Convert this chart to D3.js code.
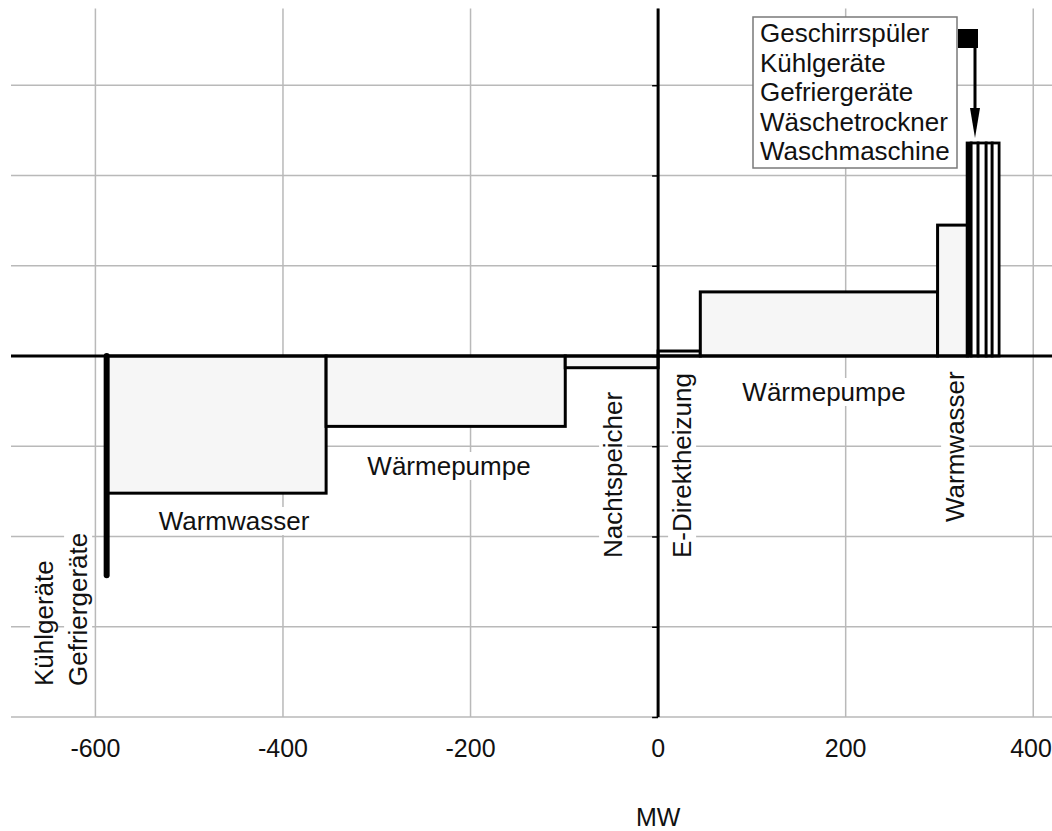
<!DOCTYPE html>
<html>
<head>
<meta charset="utf-8">
<script src="https://cdn.jsdelivr.net/npm/d3@7"></script>
<style>
  body { margin: 0; background: #fff; }
  svg { display: block; font-family: "Liberation Sans", Arial, sans-serif; }
</style>
</head>
<body>
<svg id="chart" width="1052" height="831"></svg>
<script>
// axis ticks
const xTicks = [-600, -400, -200, 0, 200, 400];
const yTicks = [-4, -3, -2, -1, 0, 1, 2, 3];

// step blocks: left edge (MW), right edge (MW), height (grid units)
const stepNames = ["Warmwasser", "Wärmepumpe", "Nachtspeicher", "E-Direktheizung", "Wärmepumpe", "Warmwasser"];
const stepFrom = [-588, -354, -99, 0, 45, 298];
const stepTo = [-354, -99, 0, 45, 298, 330];
const stepValue = [-1.52, -0.78, -0.13, 0.055, 0.71, 1.45];

// small appliances stacked at the right end
const applianceNames = ["Geschirrspüler", "Kühlgeräte", "Gefriergeräte", "Wäschetrockner", "Waschmaschine"];
const applianceFrom = [329.5, 333.8, 341.2, 349.8, 356.2];
const applianceTo = [333.8, 341.2, 349.8, 356.2, 363.6];
const applianceValue = [2.36, 2.36, 2.36, 2.36, 2.36];

// Kühl-/Gefriergeräte on the negative side (drawn as a bar line)
const coldMW = -588;
const coldValue = -2.43;

const W = 1052, H = 831;
const svg = d3.select('#chart');

const x = d3.scaleLinear().domain([-690, 420]).range([11, 1052]);
const y = d3.scaleLinear().domain([-4, 3.85]).range([717, 8.5]);

const grid = svg.append('g').attr('class', 'grid')
  .attr('stroke', '#b9b9b9').attr('stroke-width', 1.5);

grid.selectAll('.gx').data(xTicks).enter().append('line')
  .attr('x1', d => x(d)).attr('x2', d => x(d))
  .attr('y1', y(3.85)).attr('y2', y(-4));

grid.selectAll('.gy').data(yTicks).enter().append('line')
  .attr('x1', x(-690)).attr('x2', W)
  .attr('y1', d => y(d)).attr('y2', d => y(d));

// step blocks
const steps = stepNames.map((n, i) => ({ name: n, from: stepFrom[i], to: stepTo[i], value: stepValue[i] }));
svg.append('g').selectAll('rect').data(steps).enter().append('rect')
  .attr('x', d => x(d.from))
  .attr('width', d => x(d.to) - x(d.from))
  .attr('y', d => y(Math.max(0, d.value)))
  .attr('height', d => Math.abs(y(d.value) - y(0)))
  .attr('fill', '#f6f6f6')
  .attr('stroke', '#000')
  .attr('stroke-width', 3);

const appliances = applianceNames.map((n, i) => ({ name: n, from: applianceFrom[i], to: applianceTo[i], value: applianceValue[i] }));
svg.append('g').selectAll('rect').data(appliances).enter().append('rect')
  .attr('x', d => x(d.from))
  .attr('width', d => x(d.to) - x(d.from))
  .attr('y', d => y(d.value))
  .attr('height', d => y(0) - y(d.value))
  .attr('fill', d => d.name === 'Geschirrspüler' ? '#000' : '#fff')
  .attr('stroke', '#000')
  .attr('stroke-width', 2.8);

svg.append('line')
  .attr('x1', x(coldMW)).attr('x2', x(coldMW))
  .attr('y1', y(0)).attr('y2', y(coldValue))
  .attr('stroke', '#000').attr('stroke-width', 6)
  .attr('stroke-linecap', 'round');

// zero line and y axis
svg.append('line')
  .attr('x1', x(-690)).attr('x2', W)
  .attr('y1', y(0)).attr('y2', y(0))
  .attr('stroke', '#000').attr('stroke-width', 2.8);

const yAxis = svg.append('g')
  .attr('transform', `translate(${x(0)},0)`)
  .call(d3.axisLeft(y).tickValues(yTicks).tickSize(6).tickFormat(''));
yAxis.select('.domain').remove();
yAxis.selectAll('.tick line').attr('stroke', '#000').attr('stroke-width', 1.5);

svg.append('line')
  .attr('x1', x(0)).attr('x2', x(0))
  .attr('y1', y(3.85)).attr('y2', y(-4))
  .attr('stroke', '#000').attr('stroke-width', 3);

// x tick labels (last one kept inside the right edge)
svg.append('g').selectAll('text').data(xTicks).enter().append('text')
  .attr('x', d => Math.min(x(d), W - 21))
  .attr('y', 757)
  .attr('text-anchor', 'middle')
  .attr('font-size', 25).attr('fill', '#111')
  .text(d => d);

svg.append('text')
  .attr('x', x(0)).attr('y', 826)
  .attr('text-anchor', 'middle')
  .attr('font-size', 25).attr('fill', '#111')
  .text('MW');

// block labels (layout)
const labels = [
  { text: 'Warmwasser', px: 234, py: 530, rot: 0 },
  { text: 'Wärmepumpe', px: 449, py: 475, rot: 0 },
  { text: 'Nachtspeicher', px: 613, py: 558, rot: -90 },
  { text: 'E-Direktheizung', px: 682, py: 558, rot: -90 },
  { text: 'Wärmepumpe', px: 824, py: 401, rot: 0 },
  { text: 'Warmwasser', px: 955, py: 522, rot: -90 },
  { text: 'Kühlgeräte', px: 44, py: 686, rot: -90 },
  { text: 'Gefriergeräte', px: 78, py: 686, rot: -90 }
];

const lab = svg.append('g').selectAll('g').data(labels).enter().append('g')
  .attr('transform', d => `translate(${d.px},${d.py}) rotate(${d.rot})`);
lab.append('text')
  .attr('text-anchor', d => d.rot ? 'start' : 'middle')
  .attr('dy', d => d.rot ? '0.35em' : 0)
  .attr('font-size', 26).attr('fill', '#111')
  .text(d => d.text);
lab.each(function() {
  const g = d3.select(this);
  const b = g.select('text').node().getBBox();
  g.insert('rect', 'text')
    .attr('x', b.x - 3).attr('y', b.y + 1)
    .attr('width', b.width + 6).attr('height', b.height - 2)
    .attr('fill', '#fff');
});

// legend box for the small appliances
const legend = svg.append('g');
legend.append('rect')
  .attr('x', 753).attr('y', 17).attr('width', 204).attr('height', 151)
  .attr('fill', '#fff').attr('stroke', '#7a7a7a').attr('stroke-width', 1.5);
legend.selectAll('text').data(applianceNames).enter().append('text')
  .attr('x', 760).attr('y', (d, i) => 42 + i * 29.5)
  .attr('font-size', 26).attr('fill', '#111')
  .text(d => d);

legend.append('rect')
  .attr('x', 958).attr('y', 29).attr('width', 20).attr('height', 19)
  .attr('fill', '#000');
legend.append('line')
  .attr('x1', 975).attr('x2', 975).attr('y1', 46).attr('y2', 112)
  .attr('stroke', '#000').attr('stroke-width', 3);
legend.append('path')
  .attr('d', 'M970,108 L980,108 L975,138 Z')
  .attr('fill', '#000');
</script>
</body>
</html>
